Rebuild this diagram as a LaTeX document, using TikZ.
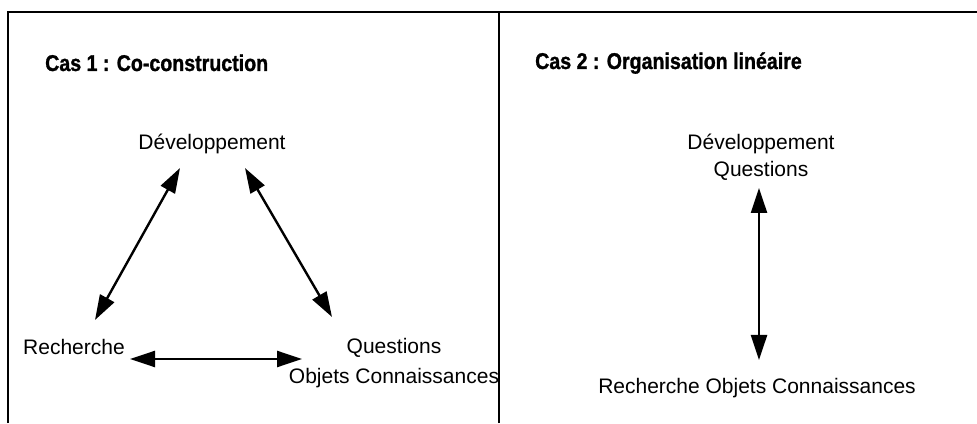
\documentclass[tikz,border=0pt]{standalone}
\usepackage{fontspec}
\setmainfont{Liberation Sans}
\newfontfamily\titlefont{Liberation Sans}[FakeStretch=0.86, FakeBold=1.2]
\usetikzlibrary{arrows.meta,positioning}

\begin{document}
\begin{tikzpicture}[x=1pt, y=1pt,
    lbl/.style={inner sep=0pt, anchor=base, font=\fontsize{21}{29}\selectfont},
    titre/.style={inner sep=0pt, anchor=base west, font=\titlefont\bfseries\fontsize{22.8}{26}\selectfont},
    fleche/.style={line width=2.4pt, {Triangle[length=25pt,width=16pt]}-{Triangle[length=25pt,width=16pt]}},
    cadre/.style={line width=1.2pt}]
  \useasboundingbox (0,0) rectangle (977,423);
  % cadres
  \draw[cadre] (8,0) -- (8,411) -- (977,411);
  \draw[cadre] (499,0) -- (499,411);

  % Cas 1
  \node[titre] (titre1) at (45,352) {Cas 1 : Co-construction};
  \node[lbl] (dev1) at (212,273) {Développement};
  \node[lbl, anchor=base west] (rech1) at (23,68) {Recherche};
  \node[lbl] (ques1) at (394,69) {Questions};
  \node[lbl] (objc1) at (394,39) {Objets Connaissances};
  \draw[fleche] ([shift={(-32,-18)}]dev1.base) -- ([shift={(72,35)}]rech1.base west);
  \draw[fleche] ([shift={(33,-18)}]dev1.base) -- ([shift={(-62,37)}]ques1.base);
  \draw[fleche] ([shift={(107,-4)}]rech1.base west) -- ([shift={(-92,-5)}]ques1.base);

  % Cas 2
  \node[titre] (titre2) at (535,354) {Cas 2 : Organisation linéaire};
  \node[lbl] (dev2) at (761,273) {Développement};
  \node[lbl] (ques2) at (761,246) {Questions};
  \node[lbl] (rech2) at (757,29) {Recherche Objets Connaissances};
  \draw[fleche] ([shift={(-2,-11)}]ques2.base) -- ([shift={(2,34)}]rech2.base);
\end{tikzpicture}
\end{document}
